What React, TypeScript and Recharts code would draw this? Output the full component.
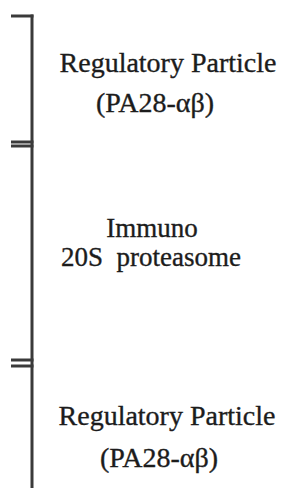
import React from 'react'
import { ComposedChart, XAxis, YAxis, ReferenceLine, Scatter } from 'recharts'

// bracket geometry (data units = pixels of the original figure)
const spineX = 32
const spineTop = 16
const spineBottom = 488
const tickStart = 11
const tickYs = [16, 142, 146, 360, 366]

// label lines
const labelTexts = ['Regulatory Particle', '(PA28-αβ)', 'Immuno', '20S  proteasome', 'Regulatory Particle', '(PA28-αβ)']
const labelXs = [168, 155, 152, 151, 167, 159]
const labelYs = [72, 112, 237, 266, 425, 467]
const labelSizes = [28, 28, 27, 27, 28, 28]

const labels = labelTexts.map((text, i) => ({ x: labelXs[i], y: labelYs[i], size: labelSizes[i], text }))

const ink = '#3a3a3a'

function LabelShape(props: any) {
  const { cx, cy, payload } = props
  return (
    <text x={cx} y={cy} textAnchor="middle" fontFamily="Liberation Serif" fontSize={`${payload.size}px`}
      fill="#1c1c1c" stroke="#1c1c1c" strokeWidth={0.35} style={{ whiteSpace: 'pre' }}>
      {payload.text}
    </text>
  )
}

export default function App() {
  return (
    <div style={{ position: 'absolute', left: 0, top: 0, width: 283, height: 488, background: '#fff' }}>
      <ComposedChart width={283} height={488} margin={{ top: 0, right: 0, bottom: 0, left: 0 }} data={labels}>
        <XAxis type="number" dataKey="x" domain={[0, 283]} hide />
        <YAxis type="number" dataKey="y" domain={[0, 488]} reversed hide />
        <ReferenceLine segment={[{ x: spineX, y: spineTop - 1.5 }, { x: spineX, y: spineBottom }]} stroke={ink} strokeWidth={3} ifOverflow="visible" />
        {tickYs.map((y) => (
          <ReferenceLine key={y} segment={[{ x: tickStart, y }, { x: spineX + 1.5, y }]} stroke={ink} strokeWidth={3} ifOverflow="visible" />
        ))}
        <Scatter data={labels} dataKey="y" shape={LabelShape} isAnimationActive={false} />
      </ComposedChart>
    </div>
  )
}
